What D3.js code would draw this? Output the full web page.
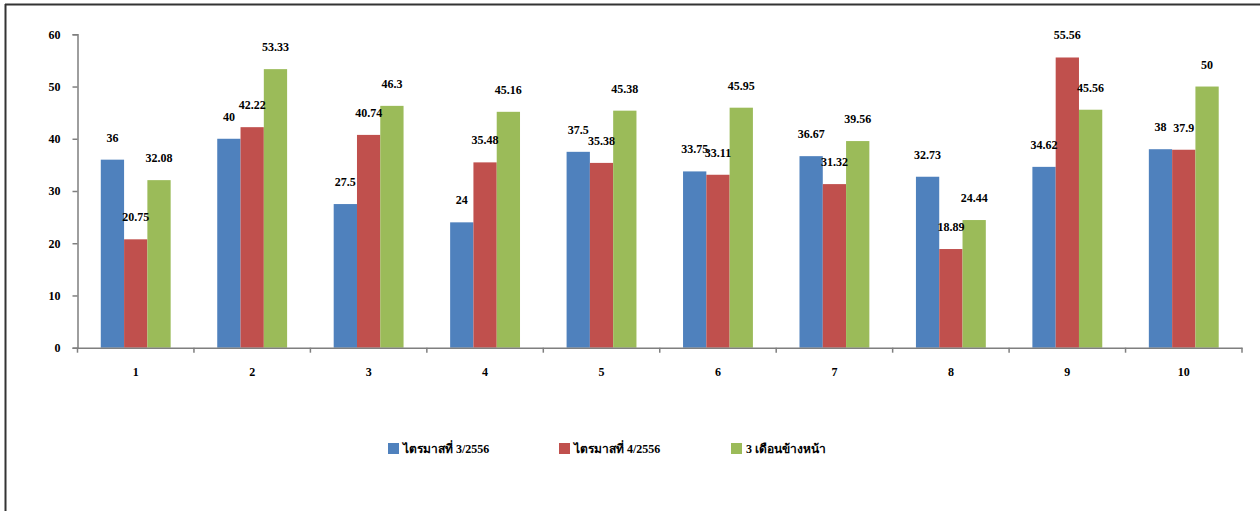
<!DOCTYPE html>
<html><head><meta charset="utf-8">
<script src="https://cdn.jsdelivr.net/npm/d3@7"></script>
<style>
html,body{margin:0;padding:0;background:#fff;}
svg{display:block;}
text{font-family:"Liberation Serif","Times New Roman",serif;font-weight:bold;fill:#000;}
</style></head>
<body>
<script>
const categories = ["1","2","3","4","5","6","7","8","9","10"];
const seriesNames = ["ไตรมาสที่ 3/2556","ไตรมาสที่ 4/2556","3 เดือนข้างหน้า"];
const q3_2556 = [36,40,27.5,24,37.5,33.75,36.67,32.73,34.62,38];
const q4_2556 = [20.75,42.22,40.74,35.48,35.38,33.11,31.32,18.89,55.56,37.9];
const next3m = [32.08,53.33,46.3,45.16,45.38,45.95,39.56,24.44,45.56,50];
const yTicks = [0,10,20,30,40,50,60];
const colors = ["#4F81BD","#C0504D","#9BBB59"];

const W=1260,H=511;
const svg=d3.select("body").append("svg").attr("width",W).attr("height",H);

// frame
svg.append("line").attr("x1",5.5).attr("x2",5.5).attr("y1",4).attr("y2",H).attr("stroke","#333").attr("stroke-width",2);
svg.append("line").attr("x1",5).attr("x2",W).attr("y1",4.5).attr("y2",4.5).attr("stroke","#333").attr("stroke-width",2);

const pLeft=77.5,pRight=1242,pTop=34.3,pBottom=347.7;
const x=d3.scaleBand().domain(categories).range([pLeft,pRight]).paddingInner(0).paddingOuter(0);
const y=d3.scaleLinear().domain([0,60]).range([pBottom,pTop]);
const inner=d3.scaleBand().domain([0,1,2]).range([x.bandwidth()*0.2,x.bandwidth()*0.8]).padding(0);

const data=[q3_2556,q4_2556,next3m];

const g=svg.append("g");
data.forEach((vals,si)=>{
  g.selectAll(null).data(vals).enter().append("rect")
    .attr("x",(d,i)=>x(categories[i])+inner(si))
    .attr("width",inner.bandwidth())
    .attr("y",d=>y(d))
    .attr("height",d=>y(0)-y(d))
    .attr("fill",colors[si]);
});
data.forEach((vals,si)=>{
  g.selectAll(null).data(vals).enter().append("text")
    .attr("x",(d,i)=>x(categories[i])+inner(si)+inner.bandwidth()/2)
    .attr("y",d=>y(d)-18)
    .attr("text-anchor","middle")
    .attr("font-size","12px")
    .text(d=>d);
});

// y axis
const ya=svg.append("g").attr("transform",`translate(${pLeft},0)`)
  .call(d3.axisLeft(y).tickValues(yTicks).tickSize(5).tickPadding(12).tickFormat(d3.format("d")));
ya.select(".domain").attr("stroke","#7f7f7f").attr("stroke-width",1.5);
ya.selectAll(".tick line").attr("stroke","#7f7f7f").attr("stroke-width",1.5);
ya.selectAll("text").attr("font-size","12px").attr("font-family","Liberation Serif").attr("font-weight","bold");

// x axis
const xa=svg.append("g").attr("transform",`translate(0,${pBottom})`)
  .call(d3.axisBottom(x).tickSize(0).tickPadding(20));
xa.select(".domain").attr("stroke","#7f7f7f").attr("stroke-width",1.5);
xa.selectAll("text").attr("font-size","12px").attr("font-family","Liberation Serif").attr("font-weight","bold");
const bounds=categories.map(c=>x(c)).concat([pRight]);
svg.append("g").selectAll("line").data(bounds).enter().append("line")
  .attr("x1",d=>d).attr("x2",d=>d).attr("y1",pBottom).attr("y2",pBottom+5)
  .attr("stroke","#7f7f7f").attr("stroke-width",1.5);

// legend
const legX=[388,559,731];
const leg=svg.append("g");
seriesNames.forEach((n,i)=>{
  leg.append("rect").attr("x",legX[i]).attr("y",443).attr("width",11).attr("height",11).attr("fill",colors[i]);
  leg.append("text").attr("x",legX[i]+15).attr("y",453).attr("font-size","12px").text(n);
});
</script>
</body></html>
